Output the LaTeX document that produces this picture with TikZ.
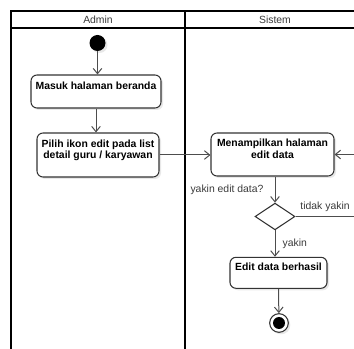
\documentclass[tikz,border=0pt]{standalone}
\usepackage{fontspec}
\setmainfont{Liberation Sans}
\usetikzlibrary{positioning,shapes.geometric,arrows.meta,shadows}
\definecolor{linegray}{HTML}{4D4D4D}
\definecolor{textgray}{HTML}{3A3A3A}
\begin{document}
\begin{tikzpicture}[
                        x=0.75pt, y=-0.75pt,
                        >={Straight Barb[length=4pt,width=6.5pt]},
                        every node/.style={font=\fontsize{7.8}{8.4}\selectfont},
                        lane/.style={draw=black, line width=1.2pt},
                        lanehead/.style={text=textgray},
                        act/.style={rectangle, draw=black!80, line width=0.8pt, rounded corners=4.5pt, fill=white, align=center, text depth=8.5pt, font=\fontsize{7.8}{8.4}\selectfont\bfseries, drop shadow={shadow xshift=1.5pt, shadow yshift=-1.5pt, opacity=0.18}},
                        decision/.style={diamond, draw=black!80, line width=0.8pt, fill=white, minimum width=30pt, minimum height=20pt, inner sep=0pt},
                        start/.style={circle, fill=black, minimum size=12pt, inner sep=0pt, drop shadow={shadow xshift=1.5pt, shadow yshift=-1.5pt, opacity=0.18}},
                        stop/.style={circle, draw=black!80, line width=0.8pt, fill=white, minimum size=14pt, inner sep=0pt, path picture={\fill[black] (path picture bounding box.center) circle (4.5pt);}, drop shadow={shadow xshift=1.5pt, shadow yshift=-1.5pt, opacity=0.18}},
                        flow/.style={->, draw=linegray, line width=0.75pt},
                        lbl/.style={text=textgray}
                    ]
                    \useasboundingbox (0,0) rectangle (354,349);
                    \clip (0,0) rectangle (354,349);

                    % Lanes
                    \draw[lane] (11,349) -- (11,11) -- (370,11);
                    \draw[lane] (11,28) -- (370,28);
                    \draw[lane] (185,11) -- (185,349);
                    \node[lanehead] (admin) at (98,19.5) {Admin};
                    \node[lanehead] (sistem) at (275,19.5) {Sistem};

                    % Blocks
                    \node[start] (start) at (97.5,43) {};
                    \node[act, minimum width=97.5pt, minimum height=24.75pt] (beranda) at (96,91.5) {Masuk halaman beranda};
                    \node[act, minimum width=91.5pt, minimum height=33pt] (pilih) at (98,155) {Pilih ikon edit pada list\\detail guru / karyawan};
                    \node[act, minimum width=92.25pt, minimum height=32.25pt] (tampil) at (272.5,154.5) {Menampilkan halaman\\edit data};
                    \node[decision] (yakin) at (275,216.5) {};
                    \node[act, minimum width=72.75pt, minimum height=23.25pt] (berhasil) at (278.5,272.8) {Edit data berhasil};
                    \node[stop] (stop) at (279,323) {};
                    \coordinate (balik) at (362,216.5);

                    % Connections
                    \draw[flow] (start) -- (start |- beranda.north);
                    \draw[flow] (beranda.south) -- (beranda.south |- pilih.north);
                    \draw[flow] (pilih.east) -- (pilih.east -| tampil.west);
                    \draw[flow] (yakin |- tampil.south) --node[lbl, left=5pt]{yakin edit data?} (yakin.north);
                    \draw[flow] (yakin.south) --node[lbl, right=2pt]{yakin} (yakin.south |- berhasil.north);
                    \draw[flow] (yakin.east) --node[lbl, above right, pos=0]{tidak yakin} (balik) |- (tampil.east);
                    \draw[flow] (berhasil.south) -- (stop);
                \end{tikzpicture}
\end{document}
